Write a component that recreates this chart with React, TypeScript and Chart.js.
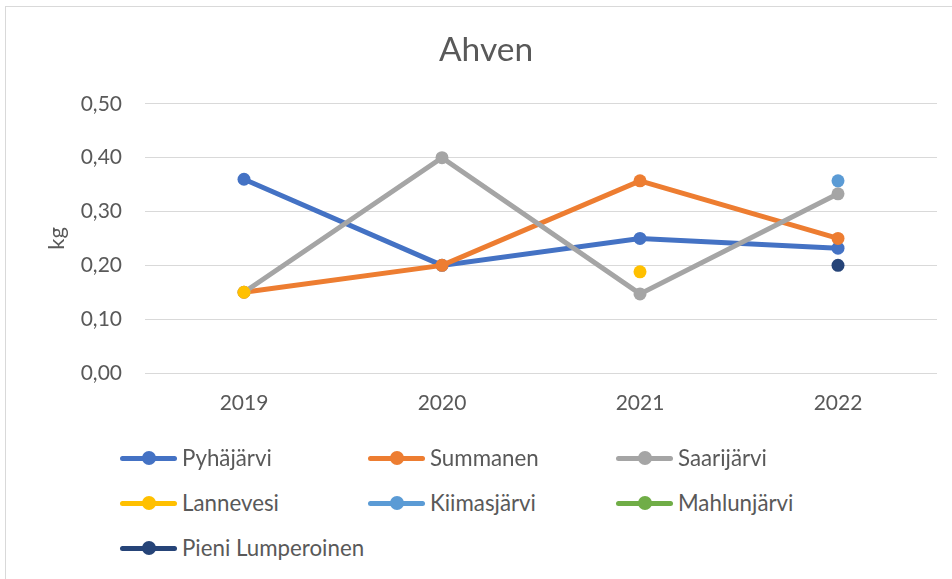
import React, { useEffect, useRef } from "react";
import { Chart, registerables } from "chart.js";

Chart.register(...registerables);

const years = ["2019", "2020", "2021", "2022"];
const seriesNames = [
  "Pyhäjärvi",
  "Summanen",
  "Saarijärvi",
  "Lannevesi",
  "Kiimasjärvi",
  "Mahlunjärvi",
  "Pieni Lumperoinen",
];
const pyhajarvi = [0.36, 0.2, 0.25, 0.232];
const summanen = [0.15, 0.2, 0.357, 0.25];
const saarijarvi = [0.15, 0.4, 0.147, 0.333];
const lannevesi = [0.15, null, 0.188, null];
const kiimasjarvi = [null, null, null, 0.357];
const mahlunjarvi = [null, null, null, null];
const pieniLumperoinen = [null, null, null, 0.2];
const seriesValues = [pyhajarvi, summanen, saarijarvi, lannevesi, kiimasjarvi, mahlunjarvi, pieniLumperoinen];
const colors = ["#4472C4", "#ED7D31", "#A5A5A5", "#FFC000", "#5B9BD5", "#70AD47", "#264478"];
const yTicks = [0, 0.1, 0.2, 0.3, 0.4, 0.5];
const titleText = "Ahven";
const yTitle = "kg";

const FONT = "Lato, 'Open Sans', sans-serif";
const TEXT = "#595959";

export default function App() {
  const ref = useRef<HTMLCanvasElement | null>(null);

  useEffect(() => {
    if (!ref.current) return;
    const chart = new Chart(ref.current, {
      type: "line",
      data: {
        labels: years,
        datasets: seriesNames.map((name, i) => ({
          label: name,
          data: seriesValues[i],
          borderColor: colors[i],
          backgroundColor: colors[i],
          pointBackgroundColor: colors[i],
          pointBorderColor: colors[i],
          borderWidth: 5,
          pointRadius: 6.5,
          pointBorderWidth: 0,
          tension: 0,
          spanGaps: false,
          order: -i,
        })),
      },
      options: {
        animation: false,
        responsive: false,
        maintainAspectRatio: false,
        layout: { padding: { left: 29, right: 15, top: 0, bottom: 0 } },
        plugins: {
          legend: { display: false },
          tooltip: { enabled: false },
          title: {
            display: true,
            text: titleText,
            color: TEXT,
            font: { family: FONT, size: 33.5, weight: "normal" },
            padding: { top: 22.7, bottom: 34 },
          },
        },
        scales: {
          x: {
            type: "category",
            offset: true,
            grid: { display: false, drawTicks: false },
            border: { display: false },
            ticks: {
              color: TEXT,
              font: { family: FONT, size: 21 },
              padding: 18,
              maxRotation: 0,
            },
            afterFit: (s: any) => {
              s.height = 74;
            },
          },
          y: {
            min: 0,
            max: 0.5,
            afterBuildTicks: (s: any) => {
              s.ticks = yTicks.map((v) => ({ value: v }));
            },
            grid: { color: "#d9d9d9", lineWidth: 1, drawTicks: false },
            border: { display: false },
            ticks: {
              color: TEXT,
              font: { family: FONT, size: 21 },
              padding: 23,
              callback: (v: any) => Number(v).toFixed(2).replace(".", ","),
            },
            title: {
              display: true,
              text: yTitle,
              color: TEXT,
              font: { family: FONT, size: 22 },
              padding: { top: 9, bottom: 0 },
            },
            afterFit: (s: any) => {
              s.width = 110;
            },
          },
        },
      },
    });
    return () => chart.destroy();
  }, []);

  const cols = [120, 368, 616];
  const rows = [458, 503, 548];

  return (
    <div
      style={{
        position: "absolute",
        left: 5,
        top: 6,
        width: 947,
        height: 573,
        borderTop: "1px solid #d9d9d9",
        borderLeft: "1px solid #d9d9d9",
        overflow: "hidden",
        background: "#fff",
      }}
    >
      <canvas ref={ref} width={946} height={440} style={{ position: "absolute", left: 0, top: 0, display: "block" }} />
      {seriesNames.map((name, i) => {
        const x = cols[i % 3] - 6;
        const y = rows[Math.floor(i / 3)] - 7;
        return (
          <div key={name} style={{ position: "absolute", left: x, top: y - 11, height: 22, width: 260 }}>
            <div
              style={{
                position: "absolute",
                left: 0,
                top: 8.5,
                width: 57,
                height: 5,
                borderRadius: 2.5,
                background: colors[i],
              }}
            />
            <div
              style={{
                position: "absolute",
                left: 22,
                top: 4,
                width: 14,
                height: 14,
                borderRadius: 7,
                background: colors[i],
              }}
            />
            <div
              style={{
                position: "absolute",
                left: 62,
                top: -3,
                fontFamily: FONT,
                fontSize: 22.3,
                lineHeight: "27px",
                color: TEXT,
                whiteSpace: "nowrap",
              }}
            >
              {name}
            </div>
          </div>
        );
      })}
    </div>
  );
}
